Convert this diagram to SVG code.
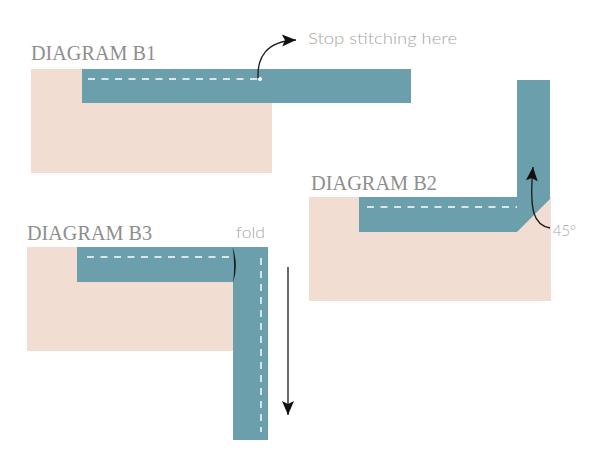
<svg xmlns="http://www.w3.org/2000/svg" width="600" height="459" viewBox="0 0 600 459">
<defs>
<style>
.fabric{fill:#f2ddd3}
.binding{fill:#6a9fab}
.stitch{fill:none;stroke:#ffffff;stroke-width:1.4;stroke-dasharray:7 6.5}
.title{font-family:"Liberation Serif","DejaVu Serif",serif;font-size:22px;fill:#8e8e8e}
.note{font-family:Lato,"Open Sans","Liberation Sans",sans-serif;font-weight:300;font-size:15px;fill:#a6a6a6}
.small{font-size:16px}
.arrow{fill:none;stroke:#1a1a1a;stroke-width:1.3}
</style>
<marker id="head" markerUnits="userSpaceOnUse" markerWidth="20" markerHeight="14" refX="14" refY="6" orient="auto" viewBox="0 0 20 14">
<path d="M14,6 L0,0 L3,6 L0,12 Z" fill="#111"/>
</marker>
</defs>
<rect width="600" height="459" fill="#ffffff"/>

<g id="diagram-b1">
<text class="title" x="31" y="60" textLength="125" lengthAdjust="spacingAndGlyphs">DIAGRAM B1</text>
<rect class="fabric" x="31" y="69" width="241" height="104"/>
<rect class="binding" x="82" y="69" width="329" height="34"/>
<line class="stitch" x1="88" y1="79" x2="259" y2="79"/>
<circle cx="260" cy="79" r="2" fill="#ffffff"/>
<text class="note" x="308" y="44" textLength="149" lengthAdjust="spacingAndGlyphs">Stop stitching here</text>
</g>

<g id="diagram-b2">
<text class="title" x="311" y="190" textLength="126" lengthAdjust="spacingAndGlyphs">DIAGRAM B2</text>
<rect class="fabric" x="309" y="197" width="242" height="104"/>
<path class="binding" d="M359,197 H517 V80 H550 V199 L517,232 H359 Z"/>
<line class="stitch" x1="367" y1="207" x2="517" y2="207"/>
<text class="note small" x="553" y="236" textLength="23" lengthAdjust="spacingAndGlyphs">45°</text>
</g>

<g id="diagram-b3">
<text class="title" x="27" y="240" textLength="125" lengthAdjust="spacingAndGlyphs">DIAGRAM B3</text>
<rect class="fabric" x="27" y="247" width="206" height="104"/>
<rect class="binding" x="77" y="247" width="157" height="35"/>
<rect class="binding" x="233" y="247" width="35" height="193"/>
<line class="stitch" x1="87" y1="257" x2="230" y2="257"/>
<line class="stitch" x1="261" y1="258" x2="261" y2="432" style="stroke-dasharray:7 6"/>
<path d="M232.5,247 Q239,265 233,283 Q235.5,265 232.5,247 Z" fill="#1a1a1a"/>
<text class="note small" x="236" y="238" textLength="29" lengthAdjust="spacingAndGlyphs">fold</text>
</g>

<g id="connectors">
<path class="arrow" d="M258,78 C257,58 266,41 296,40" marker-end="url(#head)"/>
<path class="arrow" d="M550,228 C534,225 529,212 533,167" marker-end="url(#head)"/>
<path class="arrow" d="M288,267 V415" marker-end="url(#head)"/>
</g>
</svg>
